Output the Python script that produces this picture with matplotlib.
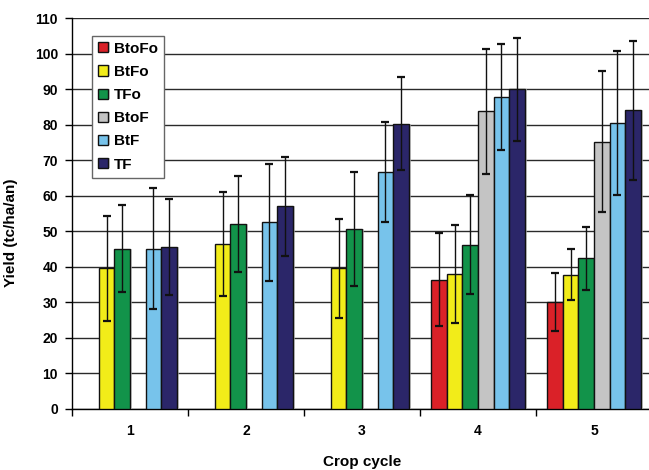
import numpy as np
import matplotlib
matplotlib.use('Agg')
import matplotlib.pyplot as plt
import matplotlib.patheffects as pe

plt.rcParams['font.family'] = ['Liberation Sans', 'DejaVu Sans']
plt.rcParams['font.weight'] = 'bold'

# 데이터
cycles = ['1', '2', '3', '4', '5']
series = ['BtoFo', 'BtFo', 'TFo', 'BtoF', 'BtF', 'TF']
colors = ['#DA2128', '#F2EC19', '#12934A', '#C4C4C4', '#77C3EB', '#2B2669']

btofo = [np.nan, np.nan, np.nan, 36.4, 30.1]
btfo = [39.6, 46.4, 39.6, 38.0, 37.8]
tfo = [45.1, 52.0, 50.6, 46.2, 42.4]
btof = [np.nan, np.nan, np.nan, 83.7, 75.2]
btf = [45.1, 52.5, 66.7, 87.8, 80.4]
tf = [45.7, 57.0, 80.3, 89.9, 84.0]

btofo_err = [np.nan, np.nan, np.nan, 13.1, 8.2]
btfo_err = [14.8, 14.6, 13.9, 13.8, 7.1]
tfo_err = [12.2, 13.5, 16.1, 13.9, 8.9]
btof_err = [np.nan, np.nan, np.nan, 17.5, 19.9]
btf_err = [17.1, 16.4, 14.0, 14.8, 20.2]
tf_err = [13.5, 14.0, 13.1, 14.4, 19.6]

values = [btofo, btfo, tfo, btof, btf, tf]
errors = [btofo_err, btfo_err, tfo_err, btof_err, btf_err, tf_err]

# 그래프 그리기
fig = plt.figure(figsize=(6.49, 4.70), dpi=100)
ax = fig.add_axes([72 / 649, 61 / 470, 580 / 649, 391 / 470])

x = np.arange(len(cycles))
width = 0.134
shadow = [pe.SimplePatchShadow(offset=(1.5, 0), shadow_rgbFace='0.75', alpha=0.7), pe.Normal()]

for i, (name, vals, errs, c) in enumerate(zip(series, values, errors, colors)):
    pos = x + (i - 2.5) * width
    bars = ax.bar(pos, vals, width, color=c, edgecolor='#111111', linewidth=1.0,
                  label=name, zorder=3)
    for b in bars:
        b.set_path_effects(shadow)
    ax.errorbar(pos, vals, yerr=errs, fmt='none', ecolor='#111111', elinewidth=1.0,
                capsize=2.8, capthick=1.6, zorder=4)

ax.set_xlim(-0.5, 4.5)
ax.set_ylim(0, 110)
ax.set_yticks(np.arange(0, 111, 10))
ax.set_xticks(x)
ax.set_xticklabels(cycles)
ax.set_xticks(np.arange(-0.5, 5, 1), minor=True)
ax.tick_params(axis='x', which='major', length=0, pad=11, labelsize=10)
ax.tick_params(axis='x', which='minor', length=5, width=1, direction='out')
ax.tick_params(axis='y', length=5, width=1, direction='out', pad=5, labelsize=10)

ax.yaxis.grid(True, color='#2a2a2a', linewidth=1.0, zorder=0)
ax.set_axisbelow(True)
ax.spines['top'].set_visible(False)
ax.spines['right'].set_visible(False)
ax.spines['left'].set_linewidth(1.0)
ax.spines['bottom'].set_linewidth(1.0)

ax.set_ylabel('Yield (tc/ha/an)', fontsize=11, fontweight='bold')
ax.yaxis.set_label_coords(-0.093, 0.45)
ax.set_xlabel('Crop cycle', fontsize=11, fontweight='bold')
ax.xaxis.set_label_coords(0.5, -0.118)

leg = ax.legend(loc='upper left', bbox_to_anchor=(0.035, 0.955), fontsize=11,
                frameon=True, fancybox=False, edgecolor='#666666', framealpha=1,
                handlelength=0.65, handleheight=0.65, handletextpad=0.35,
                labelspacing=0.6, borderpad=0.4, borderaxespad=0)
leg.get_frame().set_linewidth(1.0)

fig.savefig('out.png', dpi=100)
